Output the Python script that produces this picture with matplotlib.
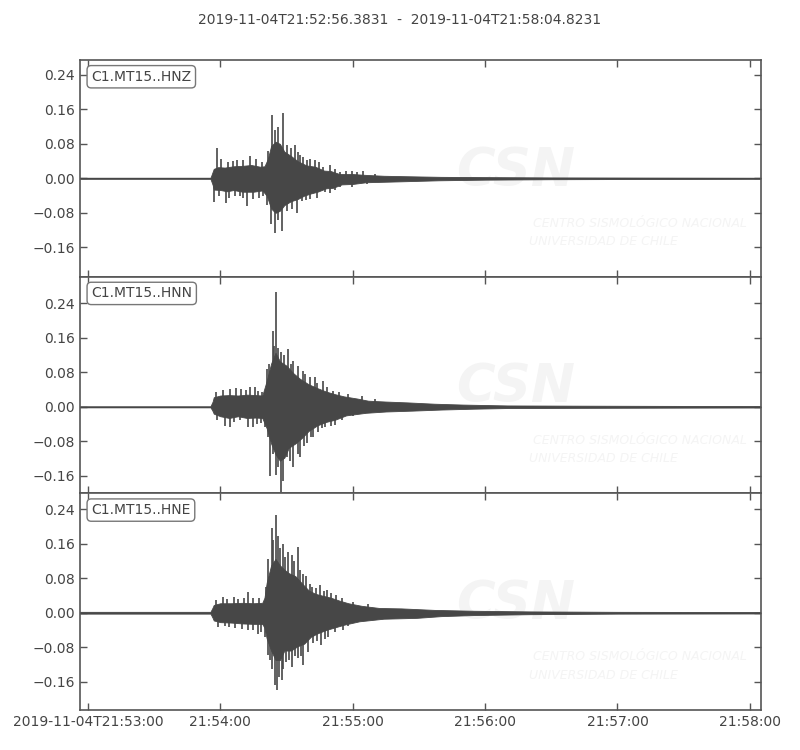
import matplotlib
matplotlib.use("Agg")
import matplotlib.pyplot as plt
import numpy as np

# ---------------- data (seconds relative to 21:53:00) ----------------
T_START = -3.6169
T_END = 304.8231
title_text = "2019-11-04T21:52:56.3831  -  2019-11-04T21:58:04.8231"
channels = ["C1.MT15..HNZ", "C1.MT15..HNN", "C1.MT15..HNE"]
tick_secs = [0, 60, 120, 180, 240, 300]
tick_labels = ["2019-11-04T21:53:00", "21:54:00", "21:55:00", "21:56:00", "21:57:00", "21:58:00"]
y_ticks = [-0.16, -0.08, 0.00, 0.08, 0.16, 0.24]
ylims = [(-0.228, 0.2745), (-0.2005, 0.3012), (-0.2262, 0.2775)]

# HNZ body envelope
z_up_t = [-3.6, 55.5, 56.5, 57, 59, 62, 66, 70, 74, 78, 80, 81.5, 83, 85, 87, 89, 92, 95, 99, 103, 107, 110, 114, 120, 126, 134, 149, 160, 180, 210, 250, 304.8]
z_up_v = [0.001, 0.001, 0.015, 0.022, 0.026, 0.025, 0.028, 0.029, 0.031, 0.027, 0.028, 0.045, 0.075, 0.085, 0.080, 0.062, 0.052, 0.040, 0.030, 0.027, 0.018, 0.017, 0.010, 0.010, 0.008, 0.006, 0.0045, 0.0035, 0.0028, 0.002, 0.0015, 0.001]
z_lo_t = [-3.6, 55.5, 56.5, 57, 60, 63, 66, 70, 75, 79, 81, 83, 85, 87, 89, 92, 95, 98, 101, 104, 108, 111, 115, 120, 126, 141, 159, 180, 210, 250, 304.8]
z_lo_v = [-0.001, -0.001, -0.015, -0.026, -0.027, -0.030, -0.027, -0.031, -0.031, -0.028, -0.040, -0.070, -0.080, -0.075, -0.062, -0.053, -0.048, -0.040, -0.035, -0.031, -0.023, -0.022, -0.014, -0.013, -0.009, -0.007, -0.0045, -0.003, -0.002, -0.0015, -0.001]
z_spk_t = [58.3, 60.5, 63.5, 65.8, 67.5, 70.4, 73.4, 76.0, 78.7, 81.7, 83.2, 84.7, 86.3, 88.2, 90.0, 91.8, 93.8, 95.0, 96.1, 97.5, 99.1, 100.5, 102.9, 104.5, 106.7, 109.7, 112.0, 114.2, 117.0, 119.5, 122.0, 124.8, 130.0,
           57.3, 59.5, 62.5, 64.0, 66.5, 68.9, 70.4, 71.9, 74.9, 77.5, 79.5, 81.0, 82.8, 84.7, 86.3, 87.8, 90.0, 92.5, 94.6, 96.9, 99.0, 100.6, 103.7, 107.4, 109.7, 112.0, 114.2, 119.5, 126.4]
z_spk_v = [0.070, 0.045, 0.038, 0.040, 0.042, 0.043, 0.051, 0.044, 0.038, 0.063, 0.147, 0.113, 0.120, 0.151, 0.078, 0.070, 0.078, 0.060, 0.055, 0.050, 0.043, 0.045, 0.043, 0.038, 0.026, 0.032, 0.022, 0.015, 0.016, 0.017, 0.014, 0.018, 0.010,
           -0.055, -0.040, -0.057, -0.045, -0.040, -0.042, -0.045, -0.065, -0.049, -0.045, -0.042, -0.061, -0.107, -0.126, -0.096, -0.123, -0.076, -0.070, -0.080, -0.053, -0.050, -0.048, -0.045, -0.032, -0.034, -0.028, -0.020, -0.020, -0.013]

# HNN body envelope
n_up_t = [-3.6, 55.5, 56.5, 57, 60, 64, 68, 72, 76, 79, 81, 83, 85, 87, 90, 93, 96, 100, 104, 108, 112, 116, 122, 127, 135, 145, 157, 170, 190, 220, 260, 304.8]
n_up_v = [0.001, 0.001, 0.012, 0.022, 0.026, 0.027, 0.026, 0.028, 0.027, 0.026, 0.060, 0.100, 0.125, 0.105, 0.095, 0.078, 0.065, 0.052, 0.043, 0.035, 0.029, 0.024, 0.019, 0.014, 0.012, 0.010, 0.007, 0.005, 0.003, 0.0025, 0.002, 0.0015]
n_lo_t = [-3.6, 55.5, 56.5, 57, 60, 64, 68, 72, 76, 79, 81, 83, 85, 87, 89, 91, 94, 97, 100, 104, 108, 112, 117, 126, 135, 147, 160, 175, 190, 220, 260, 304.8]
n_lo_v = [-0.001, -0.001, -0.010, -0.016, -0.022, -0.026, -0.022, -0.026, -0.025, -0.026, -0.050, -0.085, -0.110, -0.125, -0.118, -0.095, -0.085, -0.072, -0.056, -0.043, -0.035, -0.030, -0.020, -0.014, -0.011, -0.009, -0.0065, -0.0045, -0.003, -0.0025, -0.002, -0.0015]
n_spk_t = [58.0, 61.3, 64.3, 67.3, 69.5, 71.5, 73.4, 75.6, 77.0, 79.0, 81.0, 82.0, 83.7, 84.5, 85.2, 86.2, 87.7, 88.8, 90.8, 92.0, 93.0, 95.3, 97.6, 98.5, 100.6, 102.9, 104.0, 106.7, 108.5, 111.2, 114.0, 118.0, 124.0, 130.0,
           58.5, 62.0, 64.3, 66.0, 69.0, 72.6, 74.9, 76.5, 78.5, 80.2, 81.7, 82.5, 84.0, 85.2, 86.0, 87.3, 88.5, 90.3, 91.5, 93.0, 95.0, 96.1, 98.0, 99.1, 101.0, 102.1, 104.4, 106.0, 107.4, 110.0, 112.0, 115.0, 120.0]
n_spk_v = [0.035, 0.039, 0.041, 0.043, 0.040, 0.038, 0.046, 0.045, 0.037, 0.035, 0.087, 0.100, 0.176, 0.140, 0.265, 0.137, 0.126, 0.120, 0.134, 0.100, 0.106, 0.095, 0.083, 0.075, 0.068, 0.068, 0.055, 0.060, 0.045, 0.037, 0.035, 0.030, 0.025, 0.018,
           -0.030, -0.044, -0.048, -0.035, -0.030, -0.048, -0.048, -0.040, -0.038, -0.048, -0.071, -0.160, -0.110, -0.158, -0.140, -0.198, -0.171, -0.117, -0.125, -0.140, -0.110, -0.117, -0.090, -0.083, -0.070, -0.071, -0.059, -0.050, -0.048, -0.045, -0.042, -0.030, -0.022]

# HNE body envelope
e_up_t = [-3.6, 55.5, 56.5, 57, 60, 65, 70, 75, 79, 80, 81, 83, 85, 87, 89, 91, 94, 97, 100, 103, 106, 110, 114, 118, 124, 132, 142, 157, 175, 200, 240, 304.8]
e_up_v = [0.002, 0.002, 0.012, 0.018, 0.022, 0.022, 0.023, 0.022, 0.023, 0.035, 0.070, 0.110, 0.125, 0.110, 0.100, 0.092, 0.085, 0.068, 0.052, 0.044, 0.040, 0.035, 0.028, 0.022, 0.016, 0.011, 0.010, 0.0065, 0.0045, 0.003, 0.002, 0.0015]
e_lo_t = [-3.6, 55.5, 56.5, 57, 60, 65, 70, 75, 79, 80, 81, 83, 85, 87, 89, 92, 95, 98, 101, 104, 108, 112, 116, 123, 134, 149, 160, 175, 200, 240, 304.8]
e_lo_v = [-0.002, -0.002, -0.012, -0.018, -0.022, -0.023, -0.025, -0.026, -0.026, -0.035, -0.060, -0.088, -0.110, -0.110, -0.088, -0.088, -0.078, -0.072, -0.056, -0.048, -0.040, -0.034, -0.028, -0.020, -0.014, -0.012, -0.008, -0.0055, -0.0035, -0.002, -0.0015]
e_spk_t = [58.0, 61.0, 63.0, 66.0, 68.0, 70.5, 72.6, 75.0, 77.5, 80.5, 81.7, 83.2, 84.0, 85.2, 86.2, 87.0, 88.2, 89.5, 90.8, 92.3, 93.5, 95.0, 96.1, 97.5, 98.8, 100.6, 101.5, 103.5, 105.2, 107.0, 108.2, 110.0, 112.5, 115.0, 120.0, 127.0,
           59.0, 62.0, 64.0, 66.5, 69.6, 72.6, 75.0, 77.2, 78.5, 80.2, 81.7, 82.5, 83.2, 84.7, 85.8, 86.5, 87.8, 88.5, 89.7, 91.0, 92.3, 94.0, 95.0, 96.5, 97.6, 99.9, 102.0, 104.0, 105.5, 107.5, 109.0, 112.0, 115.8, 118.0]
e_spk_v = [0.030, 0.036, 0.032, 0.036, 0.033, 0.034, 0.049, 0.035, 0.034, 0.060, 0.125, 0.198, 0.170, 0.227, 0.179, 0.150, 0.160, 0.130, 0.140, 0.133, 0.120, 0.152, 0.100, 0.090, 0.086, 0.067, 0.060, 0.058, 0.065, 0.050, 0.052, 0.045, 0.040, 0.035, 0.025, 0.020,
           -0.033, -0.030, -0.034, -0.035, -0.037, -0.040, -0.040, -0.049, -0.045, -0.056, -0.099, -0.110, -0.130, -0.168, -0.180, -0.150, -0.157, -0.130, -0.114, -0.110, -0.126, -0.100, -0.106, -0.100, -0.122, -0.091, -0.070, -0.065, -0.076, -0.060, -0.056, -0.045, -0.041, -0.030]

traces = [
    (z_up_t, z_up_v, z_lo_t, z_lo_v, z_spk_t, z_spk_v),
    (n_up_t, n_up_v, n_lo_t, n_lo_v, n_spk_t, n_spk_v),
    (e_up_t, e_up_v, e_lo_t, e_lo_v, e_spk_t, e_spk_v),
]

# ---------------- styling ----------------
WAVE = "#474747"
TXT = "#444444"
SPINE = "#555555"
WM = "#f4f4f4"

plt.rcParams["font.family"] = ["DejaVu Sans"]
fig = plt.figure(figsize=(8, 7.5), dpi=100)
fig.text(0.5, 1 - 20 / 750, title_text, ha="center", va="center", fontsize=10, color=TXT)

left, right = 80 / 800, 760.5 / 800
top_px, bot_px = 60, 710
ph = (bot_px - top_px) / 3

for i, (ut, uv, lt, lv, st, sv) in enumerate(traces):
    y0 = 1 - (top_px + (i + 1) * ph) / 750
    ax = fig.add_axes([left, y0, right - left, ph / 750])

    # watermark
    ax.text(0.552, 0.49, "CSN", transform=ax.transAxes, fontsize=38, fontweight="bold",
            style="italic", color=WM, ha="left", va="center", zorder=0, clip_on=True)
    ax.text(0.665, 0.245, "CENTRO SISMOLÓGICO NACIONAL", transform=ax.transAxes, fontsize=9,
            style="italic", color=WM, ha="left", va="center", zorder=0, clip_on=True)
    ax.text(0.66, 0.16, "UNIVERSIDAD DE CHILE", transform=ax.transAxes, fontsize=9,
            style="italic", color=WM, ha="left", va="center", zorder=0, clip_on=True)

    grid = np.union1d(ut, lt)
    up = np.interp(grid, ut, uv)
    lo = np.interp(grid, lt, lv)
    ax.fill_between(grid, lo, up, color=WAVE, linewidth=0.6, edgecolor=WAVE, zorder=2)
    ax.plot(grid, np.zeros_like(grid), color=WAVE, lw=1.0, zorder=2)
    ax.vlines(st, 0, sv, color=WAVE, lw=1.2, zorder=2)

    ax.set_xlim(T_START, T_END)
    ax.set_ylim(*ylims[i])
    ax.set_yticks(y_ticks)
    ax.set_yticklabels([f"{v:.2f}".replace("-", "\u2212") for v in y_ticks])
    ax.set_xticks(tick_secs)
    if i == 2:
        ax.set_xticklabels(tick_labels)
    else:
        ax.set_xticklabels([])
    ax.tick_params(direction="in", top=True, right=True, length=5, width=1,
                   colors=SPINE, labelcolor=TXT, labelsize=10)
    for s in ax.spines.values():
        s.set_color(SPINE)
        s.set_linewidth(1.2)

    ax.text(0.0165, 0.955, channels[i], transform=ax.transAxes, ha="left", va="top",
            fontsize=10, color=TXT, zorder=5,
            bbox=dict(boxstyle="round,pad=0.3", fc="white", ec="#777777", lw=1))

fig.savefig("out.png", dpi=100)
